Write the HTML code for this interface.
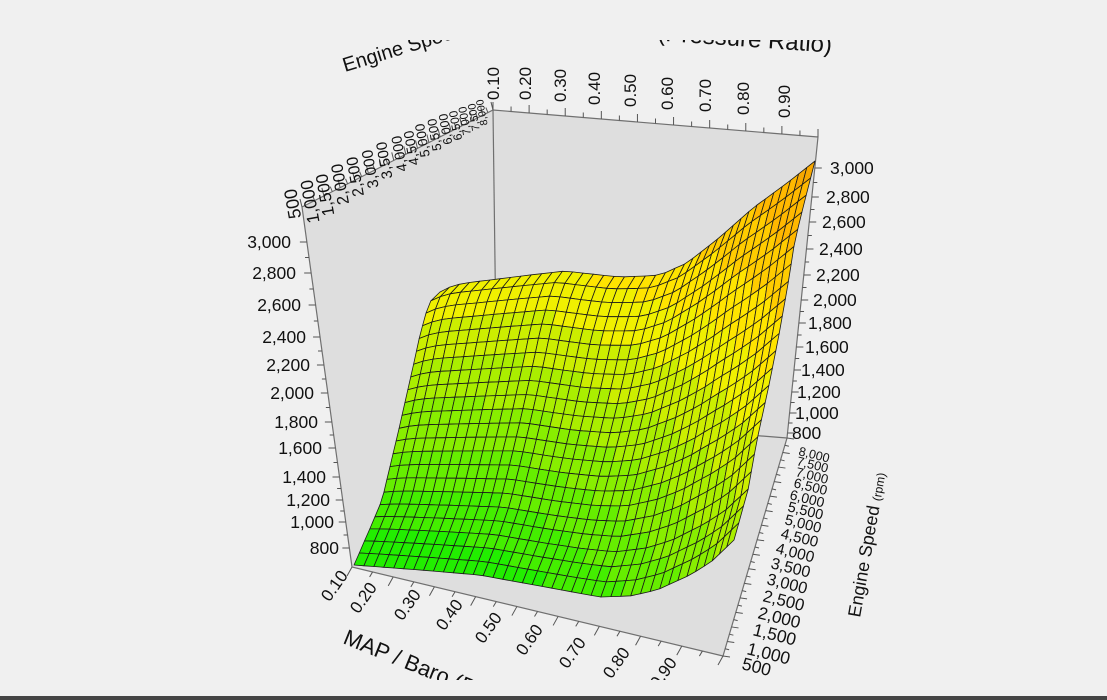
<!DOCTYPE html>
<html><head><meta charset="utf-8">
<style>
html,body{margin:0;padding:0;background:#f0f0f0;width:1107px;height:700px;overflow:hidden;}
svg{display:block;}
text{font-family:"Liberation Sans","DejaVu Sans",sans-serif;fill:#111;}
</style></head>
<body>
<svg id="s" width="1107" height="700" viewBox="0 0 1107 700" xmlns="http://www.w3.org/2000/svg">
<defs><clipPath id="cp"><rect x="0" y="40" width="1107" height="640"/></clipPath></defs>
<rect x="0" y="0" width="1107" height="700" fill="#f0f0f0"/>
<rect x="0" y="696" width="1107" height="4" fill="#444"/>
<g clip-path="url(#cp)">
<polygon points="302,207 493,110 497,415 352,567" fill="#dedede"/>
<polygon points="493,110 818,137 787,438 497,415" fill="#dedede"/>
<polygon points="352,567 497,415 787,438 723,656" fill="#dedede"/>
<g stroke="#707070" stroke-width="1.2" fill="none">
<polyline points="302,207 493,110 818,137"/>
<line x1="493" y1="110" x2="497" y2="415"/>
<line x1="497" y1="415" x2="787" y2="438"/>
<polyline points="302,207 352,567 723,656 787,438 818,137"/>
</g>
<g id="ticks" stroke="#555" stroke-width="1"></g>
<g id="surf"></g>

<g font-size="17.5" text-anchor="end">
<text x="291" y="248">3,000</text>
<text x="296" y="279">2,800</text>
<text x="301" y="311">2,600</text>
<text x="306" y="343">2,400</text>
<text x="310" y="371">2,200</text>
<text x="314" y="399">2,000</text>
<text x="318" y="428">1,800</text>
<text x="322" y="454">1,600</text>
<text x="326" y="483">1,400</text>
<text x="330" y="506">1,200</text>
<text x="334" y="528">1,000</text>
<text x="339" y="554">800</text>
</g>
<g font-size="17.5" text-anchor="start">
<text x="830" y="174">3,000</text>
<text x="826" y="203">2,800</text>
<text x="822" y="228">2,600</text>
<text x="819" y="255">2,400</text>
<text x="816" y="281">2,200</text>
<text x="813" y="306">2,000</text>
<text x="808" y="329">1,800</text>
<text x="805" y="353">1,600</text>
<text x="801" y="376">1,400</text>
<text x="797" y="398">1,200</text>
<text x="795" y="419">1,000</text>
<text x="792" y="439">800</text>
</g>
<g text-anchor="start">
<text font-size="12.5" transform="translate(798,455) rotate(14)">8,000</text>
<text font-size="12.8" transform="translate(796,465) rotate(14)">7,500</text>
<text font-size="13.2" transform="translate(795,476) rotate(14)">7,000</text>
<text font-size="13.6" transform="translate(793,487) rotate(14)">6,500</text>
<text font-size="14" transform="translate(789,499) rotate(14)">6,000</text>
<text font-size="14.4" transform="translate(787,511) rotate(14)">5,500</text>
<text font-size="14.8" transform="translate(784,524) rotate(14)">5,000</text>
<text font-size="15.2" transform="translate(780,538) rotate(14)">4,500</text>
<text font-size="15.6" transform="translate(775,553) rotate(14)">4,000</text>
<text font-size="16" transform="translate(770,568) rotate(14)">3,500</text>
<text font-size="16.4" transform="translate(766,584) rotate(14)">3,000</text>
<text font-size="16.8" transform="translate(762,601) rotate(14)">2,500</text>
<text font-size="17.2" transform="translate(757,618) rotate(14)">2,000</text>
<text font-size="17.5" transform="translate(752,635) rotate(14)">1,500</text>
<text font-size="17.5" transform="translate(746,654) rotate(14)">1,000</text>
<text font-size="17.5" transform="translate(741,669) rotate(14)">500</text>
</g>
<text font-size="18" transform="translate(860,618) rotate(-80)">Engine Speed <tspan font-size="12">(rpm)</tspan></text>
<g font-size="17" text-anchor="middle">
<text transform="translate(339,589) rotate(-55)">0.10</text>
<text transform="translate(368,601) rotate(-55)">0.20</text>
<text transform="translate(412,608) rotate(-55)">0.30</text>
<text transform="translate(454,618) rotate(-55)">0.40</text>
<text transform="translate(493,631) rotate(-55)">0.50</text>
<text transform="translate(534,643) rotate(-55)">0.60</text>
<text transform="translate(577,656) rotate(-55)">0.70</text>
<text transform="translate(621,666) rotate(-55)">0.80</text>
<text transform="translate(668,676) rotate(-55)">0.90</text>
</g>
<text font-size="22" transform="translate(342,643) rotate(22)">MAP / Baro (Pressure Ratio)</text>
<g font-size="17" text-anchor="start">
<text transform="translate(499,100) rotate(-90)">0.10</text>
<text transform="translate(531,100) rotate(-90)">0.20</text>
<text transform="translate(566,102) rotate(-90)">0.30</text>
<text transform="translate(600,105) rotate(-90)">0.40</text>
<text transform="translate(636,107) rotate(-90)">0.50</text>
<text transform="translate(673,110) rotate(-90)">0.60</text>
<text transform="translate(711,112) rotate(-90)">0.70</text>
<text transform="translate(749,115) rotate(-90)">0.80</text>
<text transform="translate(790,118) rotate(-90)">0.90</text>
</g>
<g text-anchor="end">
<text font-size="18" transform="translate(296,188) rotate(-100)">500</text>
<text font-size="17.5" transform="translate(312,179) rotate(-100)">1,000</text>
<text font-size="17" transform="translate(327,173) rotate(-100)">1,500</text>
<text font-size="16.5" transform="translate(342,163) rotate(-100)">2,000</text>
<text font-size="16" transform="translate(357,156) rotate(-100)">2,500</text>
<text font-size="15.5" transform="translate(372,149) rotate(-100)">3,000</text>
<text font-size="15" transform="translate(386,141) rotate(-100)">3,500</text>
<text font-size="14.5" transform="translate(401,135) rotate(-100)">4,000</text>
<text font-size="14" transform="translate(413,130) rotate(-100)">4,500</text>
<text font-size="13.5" transform="translate(424,123) rotate(-100)">5,000</text>
<text font-size="13" transform="translate(436,118) rotate(-100)">5,500</text>
<text font-size="12.5" transform="translate(447,113) rotate(-100)">6,000</text>
<text font-size="12" transform="translate(457,110) rotate(-100)">6,500</text>
<text font-size="11.5" transform="translate(466,106) rotate(-100)">7,000</text>
<text font-size="11" transform="translate(475,103) rotate(-100)">7,500</text>
<text font-size="10.5" transform="translate(483,99) rotate(-100)">8,000</text>
</g>
<text font-size="20" transform="translate(345,72) rotate(-17)">Engine Speed (rpm)</text>
<text font-size="24" text-anchor="middle" transform="translate(680,42) rotate(4)">MAP / Baro (Pressure Ratio)</text>
</g>
</svg>
<script>
(function(){
function mk(pts){var c=[0];for(var i=1;i<pts.length;i++){var dx=pts[i][0]-pts[i-1][0],dy=pts[i][1]-pts[i-1][1];c.push(c[i-1]+Math.sqrt(dx*dx+dy*dy));}
var L=c[c.length-1];return function(u){var d=u*L;for(var i=1;i<pts.length;i++){if(d<=c[i]||i==pts.length-1){var f=(d-c[i-1])/(c[i]-c[i-1]||1);f=Math.max(0,Math.min(1,f));return[pts[i-1][0]+f*(pts[i][0]-pts[i-1][0]),pts[i-1][1]+f*(pts[i][1]-pts[i-1][1])];}}};}
var B=mk([[354,565],[420,570],[479,575],[540,586],[600,597],[630,596],[657,590],[690,575],[711,562],[734,540]]);
var T=mk([[440,292],[452,286],[465,283],[490,280],[530,275],[565,271],[600,275],[620,277],[645,276],[660,275],[687,263],[720,237],[753,208],[787,183],[815,161]]);
var Lf=mk([[354,565],[368,533],[382,500],[398,433],[413,367],[420,335],[426,313],[432,298],[440,292]]);
var R=mk([[734,540],[748,490],[757,440],[768,390],[778,340],[787,290],[795,240],[805,200],[815,161]]);
var B0=B(0),B1=B(1),T0=T(0),T1=T(1);
function P(t,s){var b=B(t),tp=T(t),l=Lf(s),r=R(s);var o=[];
for(var k=0;k<2;k++){o[k]=(1-s)*b[k]+s*tp[k]+(1-t)*l[k]+t*r[k]-((1-t)*(1-s)*B0[k]+t*(1-s)*B1[k]+(1-t)*s*T0[k]+t*s*T1[k]);}return o;}
var cols=["#22ee00","#44ee00","#66ee00","#88ee00","#aaee00","#ccee00","#f0f000","#ffe400","#ffcc00","#ffb800","#f8a800"];
var NC=40,NR=22,g=document.getElementById("surf"),h="";
for(var j=NR-1;j>=0;j--){for(var i=0;i<NC;i++){
var t0=i/NC,t1=(i+1)/NC,s0=j/NR,s1=(j+1)/NR;
var a=P(t0,s0),b=P(t1,s0),c=P(t1,s1),d=P(t0,s1);
var tm=(t0+t1)/2,sm=(s0+s1)/2;
var cv=sm*0.7+0.45*Math.pow(tm,2.2)-0.1*tm*sm;
var idx=Math.max(0,Math.min(10,Math.floor(cv*10)));
h+='<path d="M'+a[0].toFixed(1)+' '+a[1].toFixed(1)+'L'+b[0].toFixed(1)+' '+b[1].toFixed(1)+'L'+c[0].toFixed(1)+' '+c[1].toFixed(1)+'L'+d[0].toFixed(1)+' '+d[1].toFixed(1)+'Z" fill="'+cols[idx]+'" stroke="#1a1a1a" stroke-width="0.8" stroke-linejoin="round"/>';
}}
g.innerHTML=h;
var tk="";
function line(x1,y1,x2,y2){tk+='<line x1="'+x1+'" y1="'+y1+'" x2="'+x2+'" y2="'+y2+'"/>';}
var lz=[248,279,311,343,371,399,428,454,483,506,528,554];
for(var i=0;i<lz.length;i++){var y=lz[i]-6;var x=302+(y-207)/360*50;line(x-7,y,x,y);
if(i<lz.length-1){var y2=(lz[i]+lz[i+1])/2-6;var x2=302+(y2-207)/360*50;line(x2-4,y2,x2,y2);}}
var rz=[174,203,228,255,281,306,329,353,376,398,419,439];
for(var i=0;i<rz.length;i++){var y=rz[i]-6;var x=818-(y-137)/301*31;line(x,y,x+7,y);
if(i<rz.length-1){var y2=(rz[i]+rz[i+1])/2-6;var x2=818-(y2-137)/301*31;line(x2,y2,x2+4,y2);}}
for(var i=0;i<=30;i++){var f=i/30;var x=723+f*64,y=656-f*218;line(x,y,x+(i%2?4:7),y+1);}
for(var i=0;i<=18;i++){var f=i/18;var x=352+f*371,y=567+f*89;line(x,y,x-(i%2?3:5),y+(i%2?5:9));}
for(var i=0;i<=18;i++){var f=i/18;var x=493+f*325,y=110+f*27;line(x,y,x,y-(i%2?5:8));}
for(var i=0;i<=30;i++){var f=Math.pow(i/30,0.8);var x=302+f*191,y=207-f*97;line(x,y,x-2,y-(i%2?5:8));}
document.getElementById("ticks").innerHTML=tk;
})();
</script>
</body></html>
